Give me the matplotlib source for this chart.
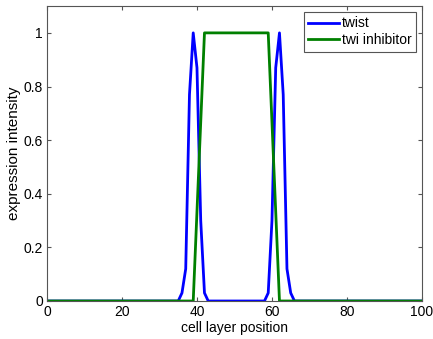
import matplotlib
matplotlib.use("Agg")
import matplotlib.pyplot as plt

plt.rcParams['font.family'] = ['Liberation Sans', 'DejaVu Sans']

# cell positions 0..100
x = list(range(0, 101))
# non-zero part of twist expression (two peaks)
twist_peak_x = [35, 36, 37, 38, 39, 40, 41, 42, 43,
                58, 59, 60, 61, 62, 63, 64, 65, 66]
twist_peak_v = [0.0, 0.03, 0.12, 0.77, 1.0, 0.87, 0.30, 0.03, 0.0,
                0.0, 0.03, 0.30, 0.87, 1.0, 0.77, 0.12, 0.03, 0.0]
# twi inhibitor profile (vertices of the plotted line)
inhib_x = [0, 39, 42, 59, 62, 100]
inhib_v = [0.0, 0.0, 1.0, 1.0, 0.0, 0.0]

twist = [0.0] * len(x)
for px, pv in zip(twist_peak_x, twist_peak_v):
    twist[px] = pv

fig = plt.figure(figsize=(4.33, 3.39), dpi=100)
ax = fig.add_axes([0.1085, 0.1121, 0.866, 0.870])
ax.plot(x, twist, color="#0000ff", lw=2, label="twist")
ax.plot(inhib_x, inhib_v, color="#008000", lw=2, label="twi inhibitor")
ax.set_xlim(0, 100)
ax.set_ylim(0, 1.1)
ax.set_xticks([0, 20, 40, 60, 80, 100])
ax.set_yticks([0, 0.2, 0.4, 0.6, 0.8, 1])
ax.set_yticklabels(["0", "0.2", "0.4", "0.6", "0.8", "1"])
ax.tick_params(direction="in", top=True, right=True, labelsize=10, length=3,
               color="#555555", pad=3)
for s in ax.spines.values():
    s.set_color("#555555")
    s.set_linewidth(0.8)
ax.set_xlabel("cell layer position", fontsize=10, labelpad=1)
ax.set_ylabel("expression intensity", fontsize=11, labelpad=2)
leg = ax.legend(loc="upper right", fontsize=10, fancybox=False, framealpha=1,
                edgecolor="#555555", handlelength=2.2, handletextpad=0.2,
                borderaxespad=0.4, labelspacing=0.2, borderpad=0.35)
leg.get_frame().set_linewidth(0.8)
fig.savefig("out.png", dpi=100)
